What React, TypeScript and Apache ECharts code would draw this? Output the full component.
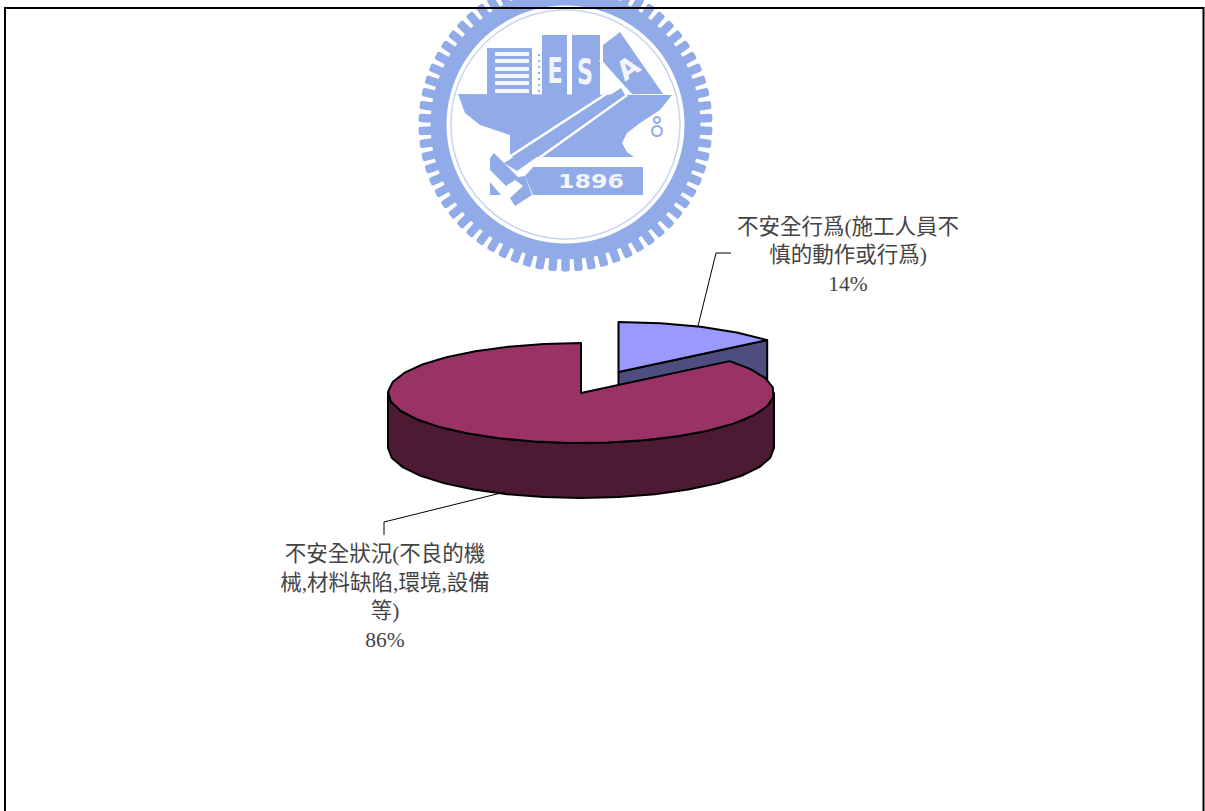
import React, { useEffect, useRef } from "react";
import * as echarts from "echarts";

// Shares of accident causes
const causeLabels = [
  "不安全行爲(施工人員不\n慎的動作或行爲)",
  "不安全狀況(不良的機\n械,材料缺陷,環境,設備\n等)",
];
const causeValues = [14, 86];

const topColors = ["#9999ff", "#993366"];
const wallColors = ["#4d4d80", "#4d1a33"];

const WIDTH = 1205;
const HEIGHT = 811;
const RX = 193;
const RY = 50;
const DEPTH = 55;
const FACET = (2 * Math.PI) / 32;

// Where each wedge, its leader and its caption sit on the page
const wedgeCenters = [
  [618.5, 372],
  [581, 393],
];
const leaderPaths = [
  [[698, 326], [716, 253], [731, 253]],
  [[505, 492], [384, 522], [384, 535]],
];
const captionAnchors = [
  [848, 255],
  [385, 597],
];

const LOGO_BLUE = "#91abe9";
const LOGO_X = 565.5;
const LOGO_Y = 124.5;

// Points along the rim, with angles measured clockwise from twelve o'clock
function rimPoints(cx: number, cy: number, from: number, to: number) {
  const pts: number[][] = [];
  const steps = Math.max(1, Math.round((to - from) / FACET));
  for (let i = 0; i <= steps; i++) {
    const a = from + ((to - from) * i) / steps;
    pts.push([cx + RX * Math.sin(a), cy - RY * Math.cos(a)]);
  }
  return pts;
}

function renderWedge(params: any, api: any) {
  const i = params.dataIndex;
  const total = causeValues.reduce((s, v) => s + v, 0);
  const before = causeValues.slice(0, i).reduce((s, v) => s + v, 0);
  const value = api.value(0);
  const start = (before / total) * 2 * Math.PI;
  const end = ((before + value) / total) * 2 * Math.PI;
  const [cx, cy] = wedgeCenters[i];
  const outline = { stroke: "#000", lineWidth: 2, lineJoin: "round" };
  const children: any[] = [];

  // Outer wall, only on the part of the rim that faces the viewer
  const wallFrom = Math.max(start, Math.PI / 2);
  const wallTo = Math.min(end, (3 * Math.PI) / 2);
  if (wallTo > wallFrom) {
    const upper = rimPoints(cx, cy, wallFrom, wallTo);
    const lower = upper.map(([x, y]) => [x, y + DEPTH]).reverse();
    children.push({
      type: "polygon",
      shape: { points: [...upper, ...lower] },
      style: { fill: wallColors[i], ...outline },
    });
  }

  // Cut face that turns toward the viewer
  if (end < Math.PI) {
    const tip = [cx + RX * Math.sin(end), cy - RY * Math.cos(end)];
    children.push({
      type: "polygon",
      shape: {
        points: [[cx, cy], tip, [tip[0], tip[1] + DEPTH], [cx, cy + DEPTH]],
      },
      style: { fill: wallColors[i], ...outline },
    });
  }

  // Top surface
  children.push({
    type: "polygon",
    shape: { points: [[cx, cy], ...rimPoints(cx, cy, start, end)] },
    style: { fill: topColors[i], ...outline },
  });

  // Leader and caption
  children.push({
    type: "polyline",
    shape: { points: leaderPaths[i] },
    style: { stroke: "#000", lineWidth: 1, fill: "none" },
  });
  children.push({
    type: "text",
    style: {
      text: `${causeLabels[i]}\n${value}%`,
      x: captionAnchors[i][0],
      y: captionAnchors[i][1],
      align: "center",
      verticalAlign: "middle",
      fontFamily: '"Liberation Serif","Noto Sans CJK TC"',
      fontSize: 21.5,
      lineHeight: 28.5,
      fill: "#444",
    },
  });
  return { type: "group", children };
}

function poly(points: number[][], fill = LOGO_BLUE) {
  return { type: "polygon", silent: true, shape: { points }, style: { fill } };
}
function box(x: number, y: number, width: number, height: number, fill = LOGO_BLUE) {
  return { type: "rect", silent: true, shape: { x, y, width, height }, style: { fill } };
}
function stripe(x1: number, y1: number, x2: number, y2: number, w = 2.5, stroke = "#fff") {
  return {
    type: "line",
    silent: true,
    shape: { x1, y1, x2, y2 },
    style: { stroke, lineWidth: w },
  };
}
function glyph(text: string, x: number, y: number, size: number, extra: any = {}) {
  const { style, ...rest } = extra;
  return {
    type: "text",
    silent: true,
    x,
    y,
    ...rest,
    style: {
      text,
      x: 0,
      y: 0,
      align: "center",
      verticalAlign: "middle",
      fontFamily: '"DejaVu Sans"',
      fontWeight: "bold",
      fontSize: size,
      fill: "#f2f5fd",
      ...style,
    },
  };
}

// University emblem sitting behind the plot
function emblem() {
  const parts: any[] = [];
  const teeth = 70;
  for (let i = 0; i < teeth; i++) {
    parts.push({
      type: "rect",
      silent: true,
      x: LOGO_X,
      y: LOGO_Y,
      rotation: (i / teeth) * 2 * Math.PI,
      shape: { x: -4.2, y: -147, width: 8.4, height: 20, r: 2 },
      style: { fill: LOGO_BLUE },
    });
  }
  parts.push({
    type: "ring",
    silent: true,
    shape: { cx: LOGO_X, cy: LOGO_Y, r: 135, r0: 119 },
    style: { fill: LOGO_BLUE },
  });
  parts.push({
    type: "circle",
    silent: true,
    shape: { cx: LOGO_X, cy: LOGO_Y, r: 114.5 },
    style: { fill: "none", stroke: "#c6d4f4", lineWidth: 1.5 },
  });

  // Books on the deck
  parts.push(box(487, 48, 45, 47));
  for (const y of [52, 59, 67, 74, 81, 89]) parts.push(box(495, y, 34, 4, "#f2f5fd"));
  for (let y = 54; y <= 92; y += 6) parts.push(box(538, y, 2, 2));
  parts.push(box(542, 35, 25, 60));
  parts.push(box(572, 35, 28, 60));
  parts.push(poly([[603, 45], [620, 32], [663, 94], [632, 94], [603, 62]]));
  parts.push(glyph("E", 555, 70, 36, { scaleX: 0.62 }));
  parts.push(glyph("S", 585, 71, 36, { scaleX: 0.62 }));
  parts.push(glyph("A", 628, 68, 27, { rotation: 0.62 }));

  // Hull
  parts.push(
    poly([
      [458, 94], [672, 95], [660, 110], [640, 123], [627, 133], [622, 143],
      [627, 152], [634, 157], [540, 157], [510, 157], [510, 135], [480, 125],
      [465, 113],
    ])
  );

  // Hammer handle outlined in white
  parts.push(stripe(600, 60, 620, 85));
  parts.push(stripe(620, 85, 500, 163));
  parts.push(stripe(620, 85, 627, 95));
  parts.push(stripe(627, 95, 518, 173));
  parts.push(poly([[621, 88], [625, 95], [517, 171], [504, 163]]));

  // Hammer head
  parts.push(
    poly([
      [490, 158], [494, 153], [518, 177], [525, 176], [532, 195], [515, 206],
      [510, 198], [523, 186], [515, 180], [506, 186], [490, 170],
    ])
  );
  parts.push(poly([[490, 182], [501, 195], [490, 195]]));

  // Year plate
  parts.push(poly([[533, 167], [643, 167], [643, 195], [533, 195], [525, 176]]));
  parts.push(glyph("1896", 591, 181, 19, { scaleX: 1.25 }));

  // Small hook hanging at the bow
  parts.push({
    type: "circle",
    silent: true,
    shape: { cx: 657, cy: 120, r: 3 },
    style: { fill: "none", stroke: LOGO_BLUE, lineWidth: 2 },
  });
  parts.push({
    type: "circle",
    silent: true,
    shape: { cx: 657, cy: 131, r: 5 },
    style: { fill: "none", stroke: LOGO_BLUE, lineWidth: 2 },
  });
  return parts;
}

export default function App() {
  const ref = useRef<HTMLDivElement>(null);

  useEffect(() => {
    document.body.style.margin = "0";
    document.body.style.overflow = "hidden";
    const chart = echarts.init(ref.current!, undefined, { renderer: "svg" });
    chart.setOption({
      animation: false,
      backgroundColor: "#fff",
      graphic: {
        elements: [
          ...emblem(),
          // Page frame, open at the bottom
          {
            type: "polyline",
            silent: true,
            z: 100,
            shape: {
              points: [[5, HEIGHT], [5, 8], [WIDTH - 1.5, 8], [WIDTH - 1.5, HEIGHT]],
            },
            style: { stroke: "#000", lineWidth: 2, fill: "none" },
          },
        ],
      },
      series: [
        {
          type: "custom",
          coordinateSystem: "none",
          silent: true,
          renderItem: renderWedge,
          data: causeValues.map((v) => [v]),
        },
      ],
    });
    return () => chart.dispose();
  }, []);

  return <div ref={ref} style={{ width: WIDTH, height: HEIGHT }} />;
}
